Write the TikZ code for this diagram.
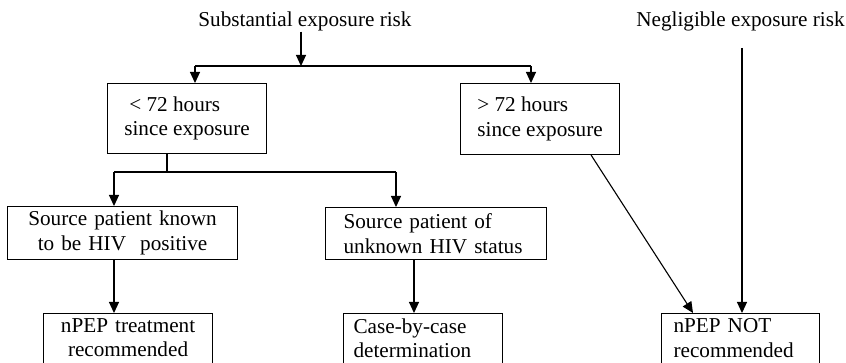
\documentclass[tikz,border=0pt]{standalone}
\usepackage{fontspec}
\setmainfont{Liberation Serif}
\usetikzlibrary{arrows.meta}
\begin{document}
\begin{tikzpicture}[x=1pt,y=-1pt,
  every node/.style={font=\fontsize{21.2}{24.5}\selectfont},
  box/.style={draw, line width=1.1pt, anchor=north west, inner ysep=0pt},
  lbox/.style={box, align=left},
  cbox/.style={box, align=center},
  endbox/.style={inner ysep=5pt, text depth=50pt},
  plain/.style={inner sep=0pt, anchor=base},
  link/.style={line width=1.1pt},
  arr/.style={link, -{Triangle[length=11pt,width=10pt]}}]
\useasboundingbox (0,0) rectangle (846,363);
\clip (0,0) rectangle (846,363);

\node[plain] (subst) at (305,27) {Substantial exposure risk};
\node[plain] (neg) at (740.5,27) {Negligible exposure risk};

\node[lbox, inner xsep=0pt, minimum width=159pt, minimum height=70pt] (lt) at (107,83)
  {\hspace*{5pt}< 72 hours\\since exposure};
\node[lbox, inner xsep=0pt, minimum width=159pt, minimum height=71pt] (gt) at (460,83)
  {> 72 hours\\since exposure};
\node[cbox, inner xsep=5pt, text width=220pt, minimum height=53pt] (known) at (7,206)
  {Source patient known\\to be HIV\ \ positive};
\node[lbox, inner xsep=18pt, text width=185pt, minimum height=52pt] (unknown) at (325,207)
  {Source patient of\\unknown HIV status};
\node[cbox, endbox, inner xsep=5pt, text width=159pt] (treat) at (43,313)
  {nPEP treatment\\recommended};
\node[lbox, endbox, inner xsep=10pt, text width=139pt] (case) at (343,313)
  {Case-by-case\\determination};
\node[lbox, endbox, inner xsep=12pt, text width=134pt] (not) at (661,313)
  {nPEP NOT\\recommended};

\coordinate (j1) at (301,66);
\coordinate (jl) at (195,66);
\coordinate (jr) at (531,66);
\coordinate (j2) at (167,172);
\coordinate (j2l) at (114,172);
\coordinate (j2r) at (396,172);
\coordinate (x414) at (414,0);
\coordinate (n1) at (742,48);

\draw[arr] (subst.south -| j1) -- (j1);
\draw[link] (jl) -- (jr);
\draw[arr] (jl) -- (lt.north -| jl);
\draw[arr] (jr) -- (gt.north -| jr);
\draw[link] (lt.south -| j2) -- (j2);
\draw[link] (j2l) -- (j2r);
\draw[arr] (j2l) -- (known.north -| j2l);
\draw[arr] (j2r) -- (unknown.north -| j2r);
\draw[arr] (known.south -| j2l) -- (treat.north -| j2l);
\draw[arr] (unknown.south -| x414) -- (case.north -| x414);
\draw[arr] ([xshift=-29pt]gt.south east) -- ([xshift=32pt]not.north west);
\draw[arr] (n1) -- (not.north -| n1);
\end{tikzpicture}
\end{document}
